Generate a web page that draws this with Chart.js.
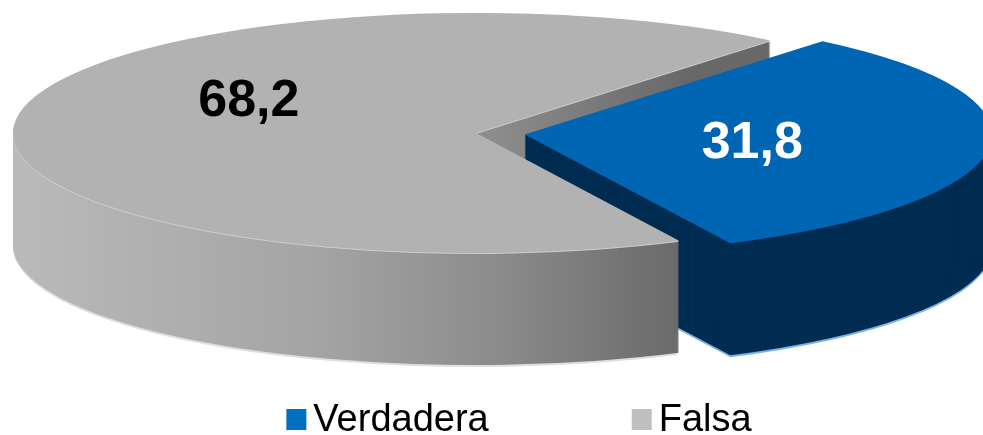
<!DOCTYPE html>
<html>
<head>
<meta charset="utf-8">
<script src="https://cdn.jsdelivr.net/npm/chart.js@4.4.1/dist/chart.umd.min.js"></script>
<style>
  html, body { margin: 0; padding: 0; background: #fff; }
  #chart { display: block; }
</style>
</head>
<body>
<canvas id="chart" width="983" height="435"></canvas>
<script>
// values
const categories = ['Verdadera', 'Falsa'];
const values = [31.8, 68.2];
const valueLabels = ['31,8', '68,2'];

const topColors = ['#0066b3', '#b2b2b2'];
const legendColors = ['#0070c0', '#bfbfbf'];
const labelColors = ['#ffffff', '#000000'];

// where the flattened pie sits on the page (screen px)
const pieBox = { cx: 476, cy: 133, rx: 463, ry: 120, depth: 112 };
// label placement: angle shift (deg) from slice middle, radius fraction
const labelPlace = [{ shift: 0, radius: 0.495 }, { shift: 23, radius: 0.565 }];

const FONT = '"Liberation Sans", Arial, sans-serif';

// squash the library's pie into an ellipse and extrude it downwards
const pie3d = {
  id: 'pie3d',
  beforeDatasetsDraw(chart) {
    const ctx = chart.ctx;
    const arcs = chart.getDatasetMeta(0).data;
    const a0 = arcs[0];
    const sx = pieBox.rx / a0.outerRadius;
    const sy = pieBox.ry / a0.outerRadius;
    const tx = pieBox.cx - sx * a0.x;
    const ty = pieBox.cy - sy * a0.y;
    const userX = (X) => (X - tx) / sx;

    const graySide = ctx.createLinearGradient(userX(13), 0, userX(690), 0);
    graySide.addColorStop(0, '#bababa');
    graySide.addColorStop(0.45, '#a4a4a4');
    graySide.addColorStop(0.72, '#8b8b8b');
    graySide.addColorStop(1, '#686868');
    const sideFills = ['#002d52', graySide];
    const rimFills = ['#7db3e6', '#dedede'];
    const edgeFills = ['#002d52', '#cdcdcd'];

    const paint = (arc, fill, d) => {
      const keep = arc.options;
      arc.options = Object.assign({}, keep, { backgroundColor: fill, borderColor: fill, borderWidth: 0 });
      ctx.setTransform(sx, 0, 0, sy, tx, ty + d);
      arc.draw(ctx);
      arc.options = keep;
    };

    ctx.save();
    arcs.forEach((arc, i) => paint(arc, rimFills[i], pieBox.depth + 2));
    for (let d = pieBox.depth; d >= 2; d--) {
      arcs.forEach((arc, i) => paint(arc, sideFills[i], d));
    }
    arcs.forEach((arc, i) => paint(arc, edgeFills[i], 1));
    arcs.forEach((arc) => paint(arc, arc.options.backgroundColor, 0));
    ctx.setTransform(1, 0, 0, 1, 0, 0);

    // value labels
    ctx.font = 'bold 52px ' + FONT;
    ctx.textAlign = 'center';
    ctx.textBaseline = 'middle';
    arcs.forEach((arc, i) => {
      const mid = (arc.startAngle + arc.endAngle) / 2;
      const off = (arc.options.offset || 0) / 4;
      const ang = mid + labelPlace[i].shift * Math.PI / 180;
      const ux = arc.x + Math.cos(mid) * off + Math.cos(ang) * arc.outerRadius * labelPlace[i].radius;
      const uy = arc.y + Math.sin(mid) * off + Math.sin(ang) * arc.outerRadius * labelPlace[i].radius;
      ctx.fillStyle = labelColors[i];
      ctx.fillText(valueLabels[i], sx * ux + tx, sy * uy + ty + 2);
    });
    ctx.restore();
    return false;
  },
  afterDraw(chart) {
    // legend row under the pie
    const ctx = chart.ctx;
    const box = 20, gap = 7, spacing = 143, centerX = 519, baseY = 431;
    ctx.save();
    ctx.font = '38px ' + FONT;
    ctx.textBaseline = 'alphabetic';
    ctx.textAlign = 'left';
    const widths = chart.data.labels.map((t) => ctx.measureText(t).width);
    const total = widths.reduce((s, w) => s + box + gap + w, 0) + spacing * (widths.length - 1);
    let x = centerX - total / 2;
    chart.data.labels.forEach((t, i) => {
      ctx.fillStyle = legendColors[i];
      ctx.fillRect(x, baseY - 22, box, 21);
      ctx.fillStyle = '#000000';
      ctx.fillText(t, x + box + gap, baseY);
      x += box + gap + widths[i] + spacing;
    });
    ctx.restore();
  }
};

new Chart(document.getElementById('chart'), {
  type: 'pie',
  data: {
    labels: categories,
    datasets: [{
      data: values,
      backgroundColor: topColors,
      borderWidth: 0,
      offset: [76, 0]
    }]
  },
  options: {
    responsive: false,
    animation: false,
    rotation: 39.5,
    layout: { padding: 0 },
    plugins: {
      legend: { display: false },
      tooltip: { enabled: false }
    }
  },
  plugins: [pie3d]
});
</script>
</body>
</html>
